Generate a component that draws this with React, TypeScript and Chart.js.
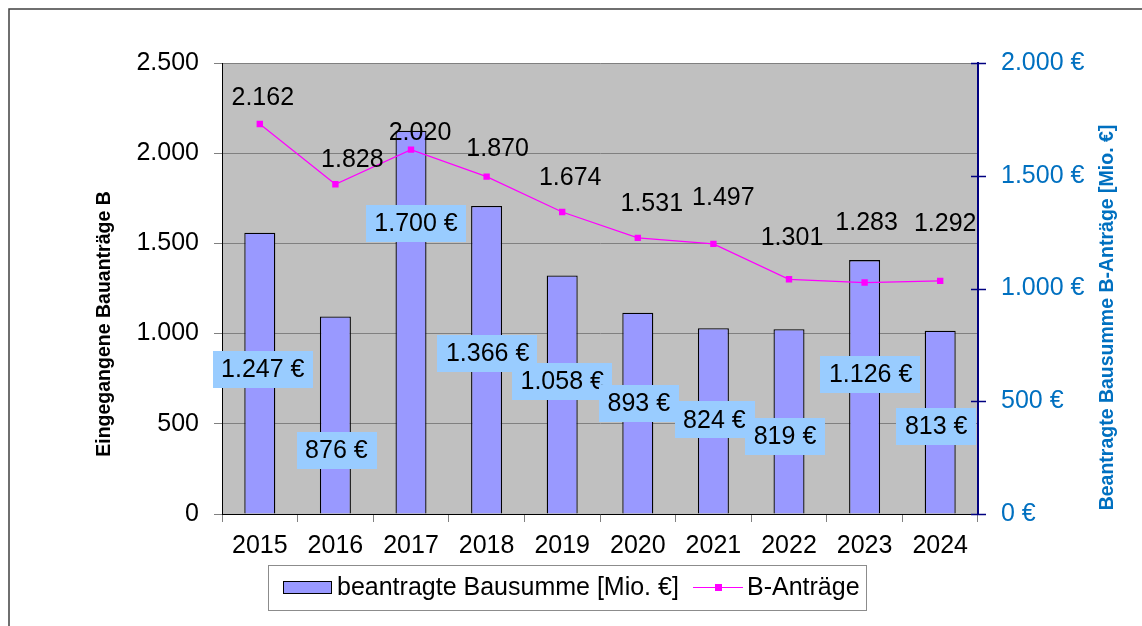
import React, { useEffect, useRef } from 'react';
import { Chart, registerables } from 'chart.js';

Chart.register(...registerables);

// ---- data ----
const years = ['2015', '2016', '2017', '2018', '2019', '2020', '2021', '2022', '2023', '2024'];
const bausumme = [1247, 876, 1700, 1366, 1058, 893, 824, 819, 1126, 813]; // Mio. €
const antraege = [2162, 1828, 2020, 1870, 1674, 1531, 1497, 1301, 1283, 1292];

// axis ranges
const leftMax = 2500;
const leftStep = 500;
const rightMax = 2000;
const rightStep = 500;

// label anchors (in axis units) as placed in the original
const bausummeLabelAt = [641, 282, 1288, 712, 588, 490, 417, 344, 619, 390];
const bausummeLabelShift = [3, 1, 5, 1, 0, 1, 1, -4, 6, -4];
const antraegeLabelAt = [2312, 1968, 2119, 2029, 1870, 1724, 1757, 1536, 1619, 1613];
const antraegeLabelShift = [3, 17, 9, 11, 8, 14, 10, 3, 2, 5];

const seriesBarName = 'beantragte Bausumme [Mio. €]';
const seriesLineName = 'B-Anträge';
const leftTitle = 'Eingegangene Bauanträge B';
const rightTitle = 'Beantragte Bausumme B-Anträge [Mio. €]';

const FONT = '"Liberation Sans", Arial, sans-serif';
const FS = 25;
const BAR_COLOR = '#9999FF';
const LINE_COLOR = '#FF00FF';
const LABEL_BG = '#99CCFF';
const BLUE = '#0070C0';
const NAVY = '#000080';

const de = (v: number) => String(Math.round(v)).replace(/\B(?=(\d{3})+(?!\d))/g, '.');

const decoPlugin = {
  id: 'deco',
  beforeDraw(chart: any) {
    const { ctx, chartArea: a } = chart;
    ctx.save();
    ctx.fillStyle = '#ffffff';
    ctx.fillRect(0, 0, chart.width, chart.height);
    ctx.fillStyle = '#C0C0C0';
    ctx.fillRect(a.left, a.top, a.right - a.left, a.bottom - a.top);
    ctx.strokeStyle = '#404040';
    ctx.lineWidth = 1.5;
    ctx.beginPath();
    ctx.moveTo(9, chart.height + 5);
    ctx.lineTo(9, 9);
    ctx.lineTo(chart.width + 5, 9);
    ctx.stroke();
    ctx.restore();
  },
  afterDatasetsDraw(chart: any) {
    const { ctx } = chart;
    const x = chart.scales.x;
    const y = chart.scales.y;
    const y1 = chart.scales.y1;
    ctx.save();
    ctx.font = `${FS}px ${FONT}`;
    ctx.textAlign = 'center';
    ctx.textBaseline = 'middle';
    // line labels
    ctx.fillStyle = '#000';
    antraege.forEach((v, i) => {
      const px = x.getPixelForValue(i) + antraegeLabelShift[i];
      const py = y.getPixelForValue(antraegeLabelAt[i]);
      ctx.fillText(de(v), px, py + 1);
    });
    // bar labels with boxes
    bausumme.forEach((v, i) => {
      const txt = de(v) + ' €';
      const w = ctx.measureText(txt).width + 17;
      const h = 37;
      const px = x.getPixelForValue(i) + bausummeLabelShift[i];
      const py = y1.getPixelForValue(bausummeLabelAt[i]);
      ctx.fillStyle = LABEL_BG;
      ctx.fillRect(Math.round(px - w / 2), Math.round(py - h / 2), Math.round(w), h);
      ctx.fillStyle = '#000';
      ctx.fillText(txt, px, py + 1);
    });
    ctx.restore();
  },
  afterDraw(chart: any) {
    const { ctx, chartArea: a } = chart;
    const y1 = chart.scales.y1;
    ctx.save();
    // right axis crossing tick marks
    ctx.strokeStyle = NAVY;
    ctx.lineWidth = 1.5;
    for (let v = 0; v <= rightMax; v += rightStep) {
      const py = Math.round(y1.getPixelForValue(v)) + 0.5;
      ctx.beginPath();
      ctx.moveTo(a.right - 7, py);
      ctx.lineTo(a.right + 8, py);
      ctx.stroke();
    }
    // axis titles
    ctx.font = `bold 19.5px ${FONT}`;
    ctx.textAlign = 'center';
    ctx.textBaseline = 'middle';
    ctx.fillStyle = '#000';
    ctx.save();
    ctx.translate(105, 324);
    ctx.rotate(-Math.PI / 2);
    ctx.fillText(leftTitle, 0, 0);
    ctx.restore();
    ctx.fillStyle = BLUE;
    ctx.save();
    ctx.translate(1108, 317.5);
    ctx.rotate(-Math.PI / 2);
    ctx.fillText(rightTitle, 0, 0);
    ctx.restore();
    // legend
    ctx.strokeStyle = '#8c8c8c';
    ctx.lineWidth = 1;
    ctx.strokeRect(268.5, 565.5, 598, 45);
    ctx.fillStyle = BAR_COLOR;
    ctx.fillRect(283, 581, 49, 13);
    ctx.strokeStyle = '#000';
    ctx.strokeRect(283.5, 581.5, 48, 12);
    ctx.font = `${FS}px ${FONT}`;
    ctx.textAlign = 'left';
    ctx.fillStyle = '#000';
    ctx.fillText(seriesBarName, 337, 588);
    ctx.strokeStyle = LINE_COLOR;
    ctx.beginPath();
    ctx.moveTo(693, 587.5);
    ctx.lineTo(743, 587.5);
    ctx.stroke();
    ctx.fillStyle = LINE_COLOR;
    ctx.fillRect(715, 584, 7, 7);
    ctx.fillStyle = '#000';
    ctx.fillText(seriesLineName, 747, 588);
    ctx.restore();
  },
};

export default function App() {
  const ref = useRef<HTMLCanvasElement | null>(null);
  useEffect(() => {
    if (!ref.current) return;
    const chart = new Chart(ref.current, {
      type: 'bar',
      data: {
        labels: years,
        datasets: [
          {
            type: 'bar',
            label: seriesBarName,
            data: bausumme,
            yAxisID: 'y1',
            backgroundColor: BAR_COLOR,
            borderColor: '#000',
            borderWidth: 1.3,
            categoryPercentage: 1,
            barPercentage: 0.41,
            order: 2,
          },
          {
            type: 'line',
            label: seriesLineName,
            data: antraege,
            yAxisID: 'y',
            borderColor: LINE_COLOR,
            borderWidth: 1.2,
            backgroundColor: LINE_COLOR,
            pointStyle: 'rect',
            pointRadius: 4.5,
            pointBorderWidth: 0,
            pointBackgroundColor: LINE_COLOR,
            tension: 0,
            order: 1,
          } as any,
        ],
      },
      options: {
        responsive: false,
        animation: false,
        layout: { padding: { top: 63, left: 0, right: 0, bottom: 0 } },
        plugins: { legend: { display: false }, tooltip: { enabled: false }, title: { display: false } },
        scales: {
          x: {
            type: 'category',
            offset: true,
            grid: { offset: true, drawOnChartArea: false, drawTicks: true, tickLength: 8, color: '#808080' },
            border: { color: '#000', width: 1 },
            ticks: { color: '#000', font: { family: FONT, size: FS }, padding: 9, maxRotation: 0 },
            afterFit: (s: any) => { s.height = 112; },
          },
          y: {
            position: 'left',
            min: 0,
            max: leftMax,
            grid: { color: '#808080', tickLength: 8, drawTicks: true },
            border: { color: '#000', width: 1 },
            ticks: {
              stepSize: leftStep,
              color: '#000',
              font: { family: FONT, size: FS },
              padding: 15,
              callback: (v: any) => de(Number(v)),
            },
            afterFit: (s: any) => { s.width = 222; },
          },
          y1: {
            position: 'right',
            min: 0,
            max: rightMax,
            grid: { drawOnChartArea: false, drawTicks: false },
            border: { color: NAVY, width: 2 },
            ticks: {
              stepSize: rightStep,
              color: BLUE,
              font: { family: FONT, size: FS },
              padding: 23,
              callback: (v: any) => de(Number(v)) + ' €',
            },
            afterFit: (s: any) => { s.width = 164; },
          },
        },
      } as any,
      plugins: [decoPlugin],
    });
    return () => chart.destroy();
  }, []);
  return (
    <div style={{ position: 'absolute', left: 0, top: 0, width: 1142, height: 626 }}>
      <canvas ref={ref} width={1142} height={626} style={{ display: 'block' }} />
    </div>
  );
}
